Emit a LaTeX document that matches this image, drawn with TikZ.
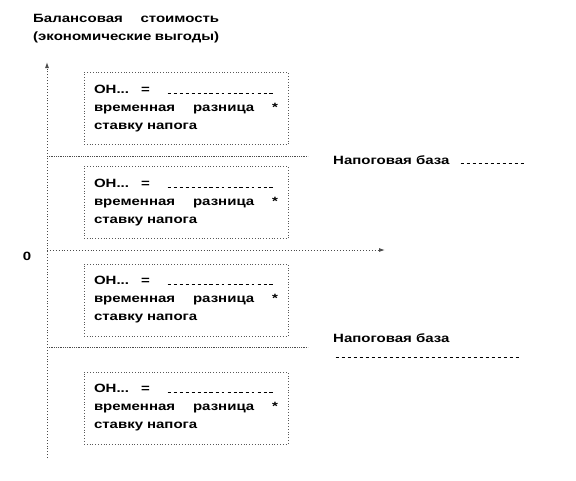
\documentclass[tikz,border=0pt]{standalone}
\usepackage{fontspec}
\setmainfont{Liberation Sans}[FakeStretch=1.25]
\usetikzlibrary{arrows.meta}
\begin{document}
\begin{tikzpicture}[x=1pt,y=-1pt,
  txt/.style={font=\fontsize{12}{18}\selectfont\bfseries, inner sep=0pt},
  onbox/.style={draw=gray!70!black, dotted, line width=0.8pt, minimum width=204pt, minimum height=72pt,
     text width=184pt, align=left, font=\fontsize{12}{18}\selectfont\bfseries, inner sep=0pt},
  axis/.style={draw=gray!60!black, dotted, line width=0.9pt},
  sep/.style={draw=gray!60!black, densely dotted, line width=0.8pt}]
\useasboundingbox (0,0) rectangle (576,480);
\newcommand{\dotrow}{\leaders\hbox to 6pt{\hss\rule{3pt}{0.9pt}\hss}}
\newcommand{\onbody}{ОН...\hspace{12pt}=\hspace{12pt}\dotrow\hfill\mbox{}\\
временная\hfill разница\hfill *\hspace*{3pt}\\
ставку напога}
% header
\node[txt, anchor=north west, text width=186pt, align=left] (hdr) at (33,14)
  {Балансовая\hfill стоимость\\(экономические\hfill выгоды)};
% axes
\coordinate (ybot) at (47,458);
\coordinate (ytop) at (47,62);
\coordinate (orig) at (47,250);
\coordinate (xend) at (385,250);
\draw[axis, -{Latex[length=6pt,width=4pt]}] (ybot) -- (ytop);
\draw[axis, -{Latex[length=6pt,width=4pt]}] (orig) -- (xend);
\node[txt] (zero) at (27,256) {0};
% boxes
\node[onbox] (b1) at (186,108.5) {\onbody};
\node[onbox] (b2) at (186,202.5) {\onbody};
\node[onbox] (b3) at (186,300) {\onbody};
\node[onbox] (b4) at (186,408) {\onbody};
% separator lines
\coordinate (s1a) at (47,156);
\coordinate (s1b) at (308,156);
\coordinate (s2a) at (47,347);
\coordinate (s2b) at (308,347);
\draw[sep] (s1a) -- (s1b);
\draw[sep] (s2a) -- (s2b);
% tax base labels
\node[txt, anchor=west] (nb1) at (333,160) {Напоговая база \dotrow\hskip 72pt\null};
\node[txt, anchor=west] (nb2) at (333,338) {Напоговая база};
\node[txt, anchor=west] (nb3) at (334,357) {\dotrow\hskip 190pt\null};
\end{tikzpicture}
\end{document}
